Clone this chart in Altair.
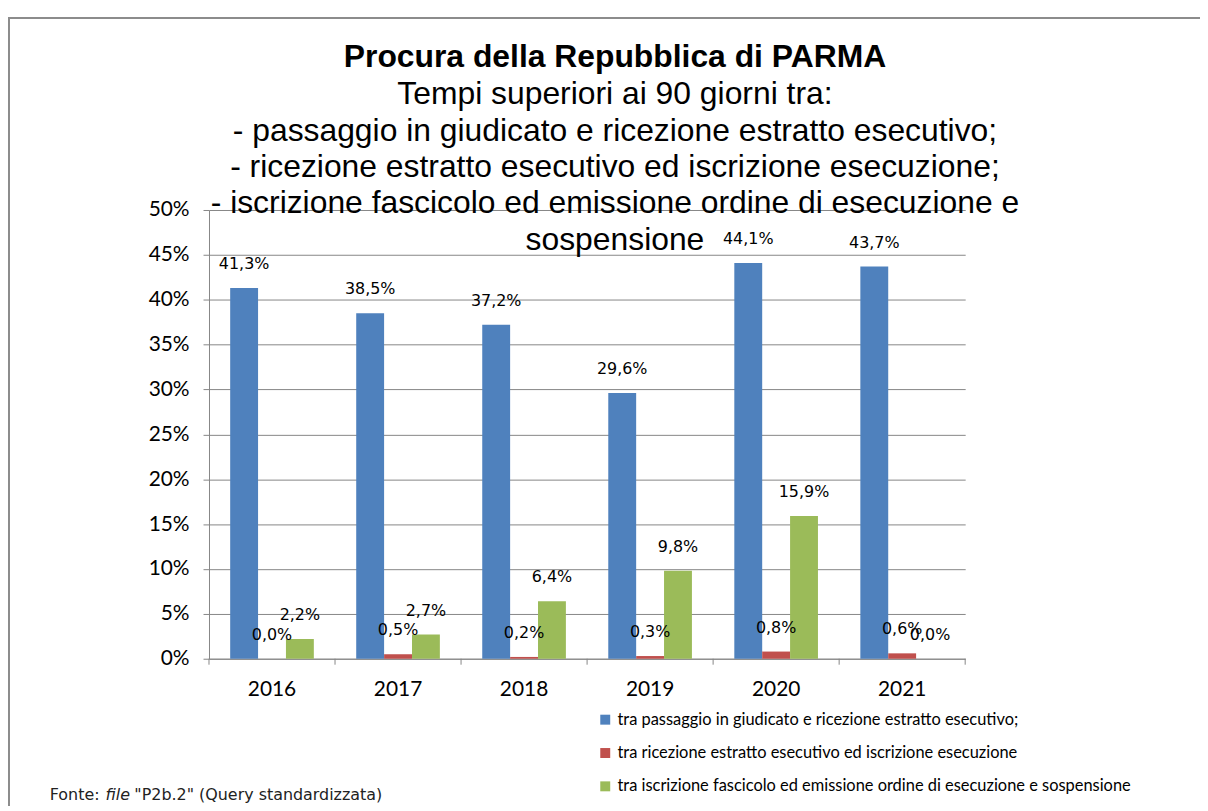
import altair as alt
import pandas as pd

years = ["2016", "2017", "2018", "2019", "2020", "2021"]
series = [
    "tra passaggio in giudicato e ricezione estratto esecutivo;",
    "tra ricezione estratto esecutivo ed iscrizione esecuzione",
    "tra iscrizione fascicolo ed emissione ordine di esecuzione e sospensione",
]
blue_vals = [41.3, 38.5, 37.2, 29.6, 44.1, 43.7]
red_vals = [0.0, 0.5, 0.2, 0.3, 0.8, 0.6]
green_vals = [2.2, 2.7, 6.4, 9.8, 15.9, 0.0]
colors = ["#4F81BD", "#C0504D", "#9BBB59"]

title_main = "Procura della Repubblica di PARMA"
title_lines = [
    "Tempi superiori ai 90 giorni tra:",
    "- passaggio in giudicato e ricezione estratto esecutivo;",
    "- ricezione estratto esecutivo ed iscrizione esecuzione;",
    "- iscrizione fascicolo ed emissione ordine di esecuzione e",
    "sospensione",
]
y_ticks = [0, 5, 10, 15, 20, 25, 30, 35, 40, 45, 50]
footer_parts = ["Fonte:", "file", '"P2b.2" (Query standardizzata)']

rows = []
for s, vals in zip(series, [blue_vals, red_vals, green_vals]):
    for y, v in zip(years, vals):
        rows.append({"year": y, "series": s, "value": v})
df = pd.DataFrame(rows)
df_years = pd.DataFrame({"year": years})
df_last = pd.DataFrame({"year": years[-1:]})
df_one = pd.DataFrame({"k": [0]})

W, H = 760, 451
GRID = "#868686"

x_enc = alt.X(
    "year:N",
    sort=years,
    scale=alt.Scale(paddingInner=0, paddingOuter=0),
    axis=alt.Axis(
        title=None, labelAngle=0, ticks=False, domainColor=GRID,
        labelFont="Lato", labelFontSize=21, labelColor="black", labelPadding=20,
    ),
)
y_enc = alt.Y(
    "value:Q",
    scale=alt.Scale(domain=[0, 50]),
    axis=alt.Axis(
        title=None, values=y_ticks, labelExpr="datum.value + '%'",
        grid=True, gridColor=GRID, domainColor=GRID, tickColor=GRID, tickSize=6,
        labelFont="Lato", labelFontSize=21, labelColor="black", labelPadding=14,
    ),
)
xoff = alt.XOffset("series:N", sort=series,
                   scale=alt.Scale(paddingInner=0, paddingOuter=0.76))
color = alt.Color(
    "series:N", sort=series,
    scale=alt.Scale(domain=series, range=colors),
    legend=alt.Legend(
        title=None, orient="none", legendX=390, legendY=504,
        symbolType="square", symbolSize=100, symbolStrokeWidth=0,
        labelFont="Lato", labelFontSize=16.5, labelColor="black",
        labelLimit=800, rowPadding=16.5, labelOffset=4,
    ),
)

bars = alt.Chart(df).mark_bar().encode(x=x_enc, y=y_enc, xOffset=xoff, color=color)

labels = alt.Chart(df).transform_calculate(
    lab="replace(format(datum.value, '.1f'), '.', ',') + '%'"
).mark_text(
    font="DejaVu Sans", fontSize=16, color="black", baseline="middle", dy=-24
).encode(x=alt.X("year:N", sort=years), y="value:Q",
         xOffset=alt.XOffset("series:N", sort=series), text="lab:N")

xticks = alt.Chart(df_years).mark_rule(color=GRID, strokeWidth=1).encode(
    x=alt.X("year:N", sort=years, bandPosition=0), y=alt.value(H), y2=alt.value(H + 6)
)
xtick_end = alt.Chart(df_last).mark_rule(color=GRID, strokeWidth=1).encode(
    x=alt.X("year:N", sort=years, bandPosition=1), y=alt.value(H), y2=alt.value(H + 6)
)

border_top = alt.Chart(df_one).mark_rule(color="#8c8c8c", strokeWidth=2).encode(
    x=alt.value(-201), x2=alt.value(1000), y=alt.value(-193)
)
border_left = alt.Chart(df_one).mark_rule(color="#8c8c8c", strokeWidth=2).encode(
    x=alt.value(-201), y=alt.value(-194), y2=alt.value(620)
)

foot1 = alt.Chart(df_one).mark_text(
    font="DejaVu Sans", fontSize=16, color="#222", align="left", baseline="middle"
).encode(x=alt.value(-160), y=alt.value(588), text=alt.value(footer_parts[0]))
foot2 = alt.Chart(df_one).mark_text(
    font="DejaVu Sans", fontSize=16, fontStyle="italic", color="#222", align="left", baseline="middle"
).encode(x=alt.value(-104), y=alt.value(588), text=alt.value(footer_parts[1]))
foot3 = alt.Chart(df_one).mark_text(
    font="DejaVu Sans", fontSize=16, color="#222", align="left", baseline="middle"
).encode(x=alt.value(-75), y=alt.value(588), text=alt.value(footer_parts[2]))

chart = alt.layer(
    border_top, border_left, bars, labels, xticks, xtick_end, foot1, foot2, foot3
).properties(
    width=W, height=H,
    background="white",
    autosize=alt.AutoSizeParams(type="none"),
    padding={"left": 202, "top": 201, "right": 236, "bottom": 146},
    title=alt.TitleParams(
        text=title_main, subtitle=title_lines,
        font="Liberation Sans", fontSize=32, fontWeight="bold", color="black",
        subtitleFont="Liberation Sans", subtitleFontSize=32, subtitleColor="black",
        subtitleFontWeight="normal",
        subtitleLineHeight=36.6, subtitlePadding=5,
        anchor="middle", frame="group", offset=-242, dx=28,
    ),
).configure_view(strokeWidth=0)

chart.save("out.html", embed_options={"renderer": "svg", "actions": False})
